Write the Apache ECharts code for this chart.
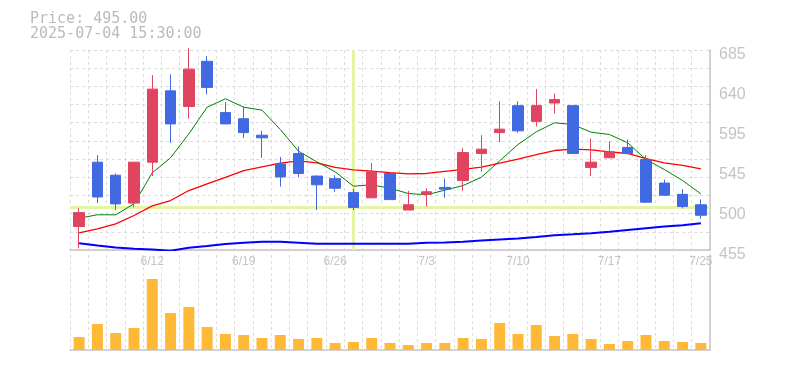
<!DOCTYPE html>
<html>
<head>
<meta charset="utf-8">
<script src="https://cdn.jsdelivr.net/npm/echarts@6/dist/echarts.min.js"></script>
<style>html,body{margin:0;padding:0;background:#fff;}#c{width:785px;height:370px;}</style>
</head>
<body>
<div id="c"></div>
<script>
const dates = ['6/6','6/9','6/10','6/11','6/12','6/13','6/16','6/17','6/18','6/19','6/20','6/23','6/24','6/25','6/26','6/27','6/30','7/1','7/2','7/3','7/4','7/7','7/8','7/9','7/10','7/11','7/14','7/15','7/16','7/17','7/18','7/22','7/23','7/24','7/25'];
const labelIdx = [4, 9, 14, 19, 24, 29, 34];
const opens  = [482,556,541,509,556,638,620,672,613,606,587,554,566,540,537,521,515,543,501,519,527,535,566,590,621,603,624,621,550,561,573,559,532,519,507];
const closes = [498,516,508,556,640,600,663,642,600,590,584,539,543,530,526,504,545,513,507,522,525,567,571,594,592,621,628,566,556,568,566,510,518,505,495];
const lows   = [457,509,501,504,540,578,606,634,600,584,561,528,539,501,522,501,515,513,501,505,515,523,545,579,590,597,612,566,540,561,565,509,517,503,491];
const highs  = [503,564,543,556,656,657,687,678,625,620,592,562,574,541,541,525,555,543,523,526,537,572,587,626,626,640,635,621,583,580,582,564,536,525,513];
const ma5  = [491.6,495.5,495.5,508.1,543.8,561,588.6,619.2,628.9,619.2,615.8,593.6,568.6,556.4,544.9,528.4,530,526,520,518.5,523.8,529.2,538.7,557.6,576.3,590.9,601.3,599.3,590.5,587.8,578.3,559.1,547.6,534.9,519.6];
const ma25 = [474.8,479.4,485.1,494.7,505.8,511.9,523.4,531.1,538.4,546.4,550.7,554.8,557.6,555.3,549.9,547.2,545.6,543.9,542.6,543,545.3,547.6,550.2,554.8,559.4,564.8,569.4,570.9,570.2,567.9,566,560.2,555.3,552.2,548.4];
const ma75 = [462.8,460.2,457.9,456.4,455.5,454.2,457.5,459.6,461.8,463.3,464.4,464.4,463.3,462.1,462.1,462.1,462.1,462.1,462.3,463.4,463.5,464.6,465.8,467,468.1,470,472,473,474.2,476,478,480,482,483.6,485.7];
const volumes = [13,26,17,22,71,37,43,23,16,15,12,15,11,12,7,8,12,7,5,7,7,12,11,27,16,25,14,16,11,6,9,15,9,8,7];
const yTickValues = [455,501,547,593,639,685];
const yTickLabels = ['455','500','545','595','640','685'];
const crossIdx = 15;
const headerTime = '2025-07-04 15:30:00';

const candleData = dates.map((d, i) => [opens[i], closes[i], lows[i], highs[i]]);
const dash = {type: [3, 3], color: '#dcdcdc', width: 1};
const axisCol = '#c4c4c4';
const chart = echarts.init(document.getElementById('c'));
chart.setOption({
  animation: false,
  title: {
    text: 'Price: ' + closes[closes.length - 1].toFixed(2),
    subtext: headerTime,
    left: 30, top: 12, padding: 0, itemGap: 0,
    textStyle: {fontFamily: 'DejaVu Sans Mono', fontSize: 15, fontWeight: 'normal', color: '#bbbbbb', lineHeight: 15},
    subtextStyle: {fontFamily: 'DejaVu Sans Mono', fontSize: 15, color: '#bbbbbb', lineHeight: 15}
  },
  grid: [
    {left: 70, right: 75, top: 50, height: 200},
    {left: 70, right: 75, top: 255, bottom: 20}
  ],
  xAxis: [
    {type: 'category', gridIndex: 0, data: dates, boundaryGap: true,
     axisLine: {show: true, lineStyle: {color: axisCol, width: 1.5}},
     axisTick: {show: false},
     axisLabel: {interval: (i) => labelIdx.indexOf(i) >= 0, color: '#c4c4c4', fontFamily: 'Liberation Sans', fontSize: 12, margin: 6},
     splitLine: {show: true, interval: 0, lineStyle: dash}},
    {type: 'category', gridIndex: 1, data: dates, boundaryGap: true,
     axisLine: {show: true, lineStyle: {color: axisCol, width: 1.5}},
     axisTick: {show: false}, axisLabel: {show: false},
     splitLine: {show: true, interval: 0, lineStyle: dash}}
  ],
  yAxis: [
    {type: 'value', gridIndex: 0, position: 'right', min: 455, max: 685, interval: 46,
     axisLine: {show: true, lineStyle: {color: axisCol, width: 1.5}},
     axisTick: {show: false}, splitLine: {show: false},
     axisLabel: {formatter: (v) => { const k = yTickValues.indexOf(Math.round(v)); return k >= 0 ? yTickLabels[k] : ''; },
                 color: '#c4c4c4', fontFamily: 'Liberation Sans', fontSize: 16, margin: 9,
                 verticalAlign: 'top', lineHeight: 10}},
    {type: 'value', gridIndex: 0, position: 'left', min: 0, max: 11, interval: 1,
     axisLine: {show: false}, axisTick: {show: false}, axisLabel: {show: false},
     splitLine: {show: true, lineStyle: dash}},
    {type: 'value', gridIndex: 1, position: 'right', min: 0, max: 95,
     axisLine: {show: true, lineStyle: {color: axisCol, width: 1.5}},
     axisTick: {show: false}, axisLabel: {show: false}, splitLine: {show: false}}
  ],
  series: [
    {type: 'line', name: 'cross', z: 1, xAxisIndex: 0, yAxisIndex: 0, data: closes, symbol: 'none', silent: true,
     lineStyle: {opacity: 0},
     markLine: {silent: true, z: 1, symbol: ['none', 'none'], label: {show: false},
       lineStyle: {color: '#e2f5a2', width: 3, type: 'solid'},
       data: [{xAxis: dates[crossIdx]}, {yAxis: closes[crossIdx]}]}},
    {type: 'line', name: 'MA75', z: 3, xAxisIndex: 0, yAxisIndex: 0, data: ma75, symbol: 'none', silent: true,
     lineStyle: {color: '#0000ff', width: 2}},
    {type: 'line', name: 'MA25', z: 3, xAxisIndex: 0, yAxisIndex: 0, data: ma25, symbol: 'none', silent: true,
     lineStyle: {color: '#ff0000', width: 1.3}},
    {type: 'line', name: 'MA5', z: 3, xAxisIndex: 0, yAxisIndex: 0, data: ma5, symbol: 'none', silent: true,
     lineStyle: {color: '#008000', width: 1}},
    {type: 'candlestick', name: 'price', z: 5, xAxisIndex: 0, yAxisIndex: 0, data: candleData, barWidth: 11,
     itemStyle: {color: '#e0445e', color0: '#4169e1', borderColor: '#e0445e', borderColor0: '#4169e1', borderWidth: 1}},
    {type: 'bar', name: 'volume', xAxisIndex: 1, yAxisIndex: 2, data: volumes, barWidth: 11,
     itemStyle: {color: '#ffb937'}}
  ]
});
</script>
</body>
</html>
